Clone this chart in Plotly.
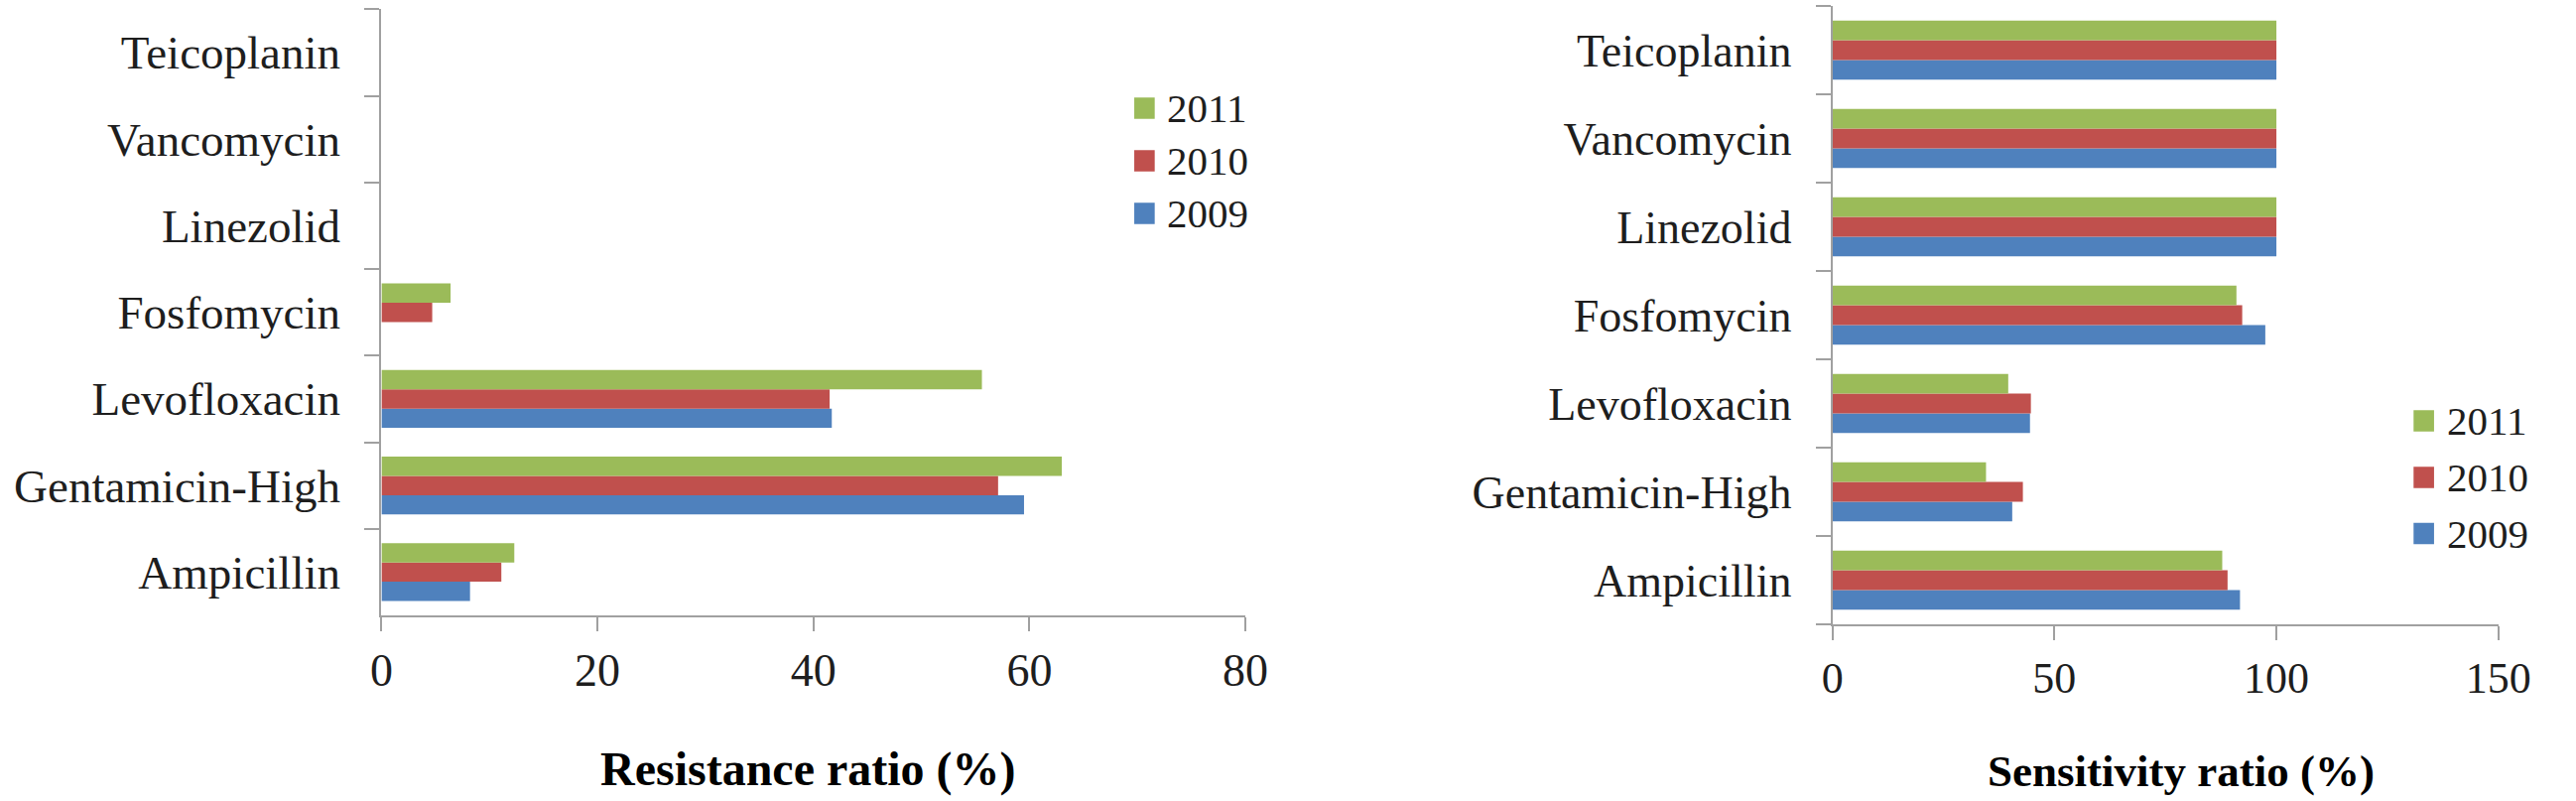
import plotly.graph_objects as go

# ---------------- data ----------------
categories = ["Ampicillin", "Gentamicin-High", "Levofloxacin", "Fosfomycin",
              "Linezolid", "Vancomycin", "Teicoplanin"]
years = ["2009", "2010", "2011"]

resistance_2009 = [8.2, 59.5, 41.7, 0, 0, 0, 0]
resistance_2010 = [11.1, 57.1, 41.5, 4.7, 0, 0, 0]
resistance_2011 = [12.3, 63.0, 55.6, 6.4, 0, 0, 0]

sensitivity_2009 = [91.8, 40.5, 44.5, 97.5, 100, 100, 100]
sensitivity_2010 = [89.0, 42.9, 44.7, 92.3, 100, 100, 100]
sensitivity_2011 = [87.8, 34.6, 39.6, 91.0, 100, 100, 100]

left_ticks = [0, 20, 40, 60, 80]
right_ticks = [0, 50, 100, 150]
left_title = "Resistance ratio (%)"
right_title = "Sensitivity ratio (%)"

# ---------------- style ----------------
W, H = 2596, 807
colors = {"2009": "#4F81BD", "2010": "#C0504D", "2011": "#9BBB59"}
FONT = "Liberation Serif, Times New Roman, serif"
TXT = "#1e1e1e"
AX = "#A0A0A0"


def px_x(p):
    return p / W


def px_y(p):
    return 1 - p / H


resistance = {"2009": resistance_2009, "2010": resistance_2010, "2011": resistance_2011}
sensitivity = {"2009": sensitivity_2009, "2010": sensitivity_2010, "2011": sensitivity_2011}

fig = go.Figure()
for yr in years:
    fig.add_trace(go.Bar(y=categories, x=resistance[yr], orientation="h", name=yr,
                         xaxis="x", yaxis="y", showlegend=False,
                         marker=dict(color=colors[yr], line=dict(width=0))))
for yr in years:
    fig.add_trace(go.Bar(y=categories, x=sensitivity[yr], orientation="h", name=yr,
                         xaxis="x2", yaxis="y2", showlegend=False,
                         marker=dict(color=colors[yr], line=dict(width=0))))


def yaxis_style(domain, size, standoff):
    return dict(domain=domain, type="category", categoryorder="array",
                categoryarray=categories, range=[-0.5, len(categories) - 0.5],
                tickson="boundaries", ticks="outside", ticklen=15, tickwidth=2,
                tickcolor=AX, showline=True, linecolor=AX, linewidth=2,
                showgrid=False, zeroline=False, ticklabelstandoff=standoff,
                tickfont=dict(family=FONT, size=size, color=TXT), fixedrange=True)


def xaxis_style(domain, anchor, ticks, size):
    return dict(domain=domain, anchor=anchor, range=[ticks[0], ticks[-1]],
                tickmode="array", tickvals=ticks, ticktext=[str(t) for t in ticks],
                ticks="outside", ticklen=14, tickwidth=2, tickcolor=AX,
                showline=True, linecolor=AX, linewidth=2, showgrid=False,
                zeroline=False, ticklabelstandoff=0,
                tickfont=dict(family=FONT, size=size, color=TXT), fixedrange=True)


fig.update_layout(
    width=W, height=H, autosize=False,
    margin=dict(l=0, r=0, t=0, b=0, pad=0),
    paper_bgcolor="white", plot_bgcolor="white",
    barmode="group", bargap=0.33, bargroupgap=0,
    xaxis=xaxis_style([px_x(379), px_x(1265)], "y", left_ticks, 46),
    yaxis=yaxis_style([px_y(620), px_y(9.3)], 47, 30),
    xaxis2=xaxis_style([px_x(1867), px_x(2550)], "y2", right_ticks, 44),
    yaxis2=dict(yaxis_style([px_y(629), px_y(6)], 46, 30), anchor="x2"),
)
fig.layout.yaxis.anchor = "x"

# axis titles
fig.add_annotation(text="<b>%s</b>" % left_title, x=px_x(817), y=px_y(775),
                   xref="paper", yref="paper", xanchor="center", yanchor="middle",
                   showarrow=False, font=dict(family=FONT, size=48, color="black"))
fig.add_annotation(text="<b>%s</b>" % right_title, x=px_x(2225), y=px_y(777),
                   xref="paper", yref="paper", xanchor="center", yanchor="middle",
                   showarrow=False, font=dict(family=FONT, size=45, color="black"))

# legends (reversed order: 2011 on top), drawn as squares + text
legend_specs = [
    dict(sq_x0=1151, sq_x1=1172, text_x=1183, centers={"2011": 109, "2010": 162, "2009": 215}),
    dict(sq_x0=2463, sq_x1=2484, text_x=2495, centers={"2011": 424, "2010": 481, "2009": 537.5}),
]
SQ = 21.5
for spec in legend_specs:
    for yr in years:
        cy = spec["centers"][yr]
        fig.add_shape(type="rect", xref="paper", yref="paper",
                      x0=px_x(spec["sq_x0"]), x1=px_x(spec["sq_x1"]),
                      y0=px_y(cy + SQ / 2), y1=px_y(cy - SQ / 2),
                      fillcolor=colors[yr], line=dict(width=0))
        fig.add_annotation(text=yr, x=px_x(spec["text_x"]), y=px_y(cy),
                           xref="paper", yref="paper", xanchor="left", yanchor="middle",
                           showarrow=False, font=dict(family=FONT, size=41, color=TXT))

fig.write_html("out.html", config={"displayModeBar": False},
               post_script="document.body.style.margin='0';document.body.style.overflow='hidden';")
